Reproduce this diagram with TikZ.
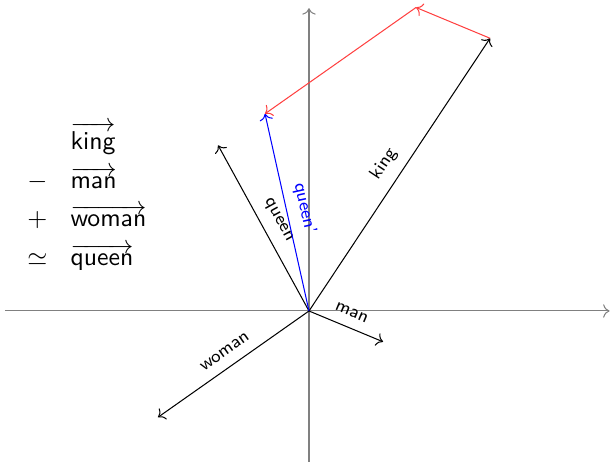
\documentclass[tikz,border=0pt]{standalone}
\usepackage{amsmath,amssymb}
\usepackage{xcolor}
\usepackage{tikz}
\usetikzlibrary{arrows.meta,positioning,calc}
\tikzset{
wvaxis/.style={->,gray,thin},
wvvec/.style={->,black,thin},
wvshift/.style={->,red!75,thin},
wvresult/.style={->,blue,thin},
wvlabel/.style={font=\sffamily\scriptsize,inner sep=4pt,sloped,above}
}
\begin{document}
\begin{tikzpicture}[
x=1cm,
y=1cm
]
\useasboundingbox (-4.215,-2.060) rectangle (4.106,4.242);
\coordinate (origin) at (0,0);
\coordinate (xleft) at (-4.15,0);
\coordinate (xright) at (4.10,0);
\coordinate (ybottom) at (0,-2.06);
\coordinate (ytop) at (0,4.13);
\coordinate (king) at (2.47,3.72);
\coordinate (man) at (1.01,-0.42);
\coordinate (woman) at (-2.06,-1.45);
\coordinate (queen) at (-1.24,2.26);
\coordinate (kingman) at ($(king)-(man)$);
\coordinate (queenp) at ($(kingman)+(woman)$);
\draw[wvaxis] (xleft)--(xright);
\draw[wvaxis] (ybottom)--(ytop);
\draw[wvvec] (origin)--node[wvlabel]{king}(king);
\draw[wvvec] (origin)--node[wvlabel]{man}(man);
\draw[wvvec] (origin)--node[wvlabel]{woman}(woman);
\draw[wvvec] (origin)--node[wvlabel]{queen}(queen);
\draw[wvresult] (origin)--node[wvlabel,inner sep=3.7pt,blue]{queen'}(queenp);
\draw[wvshift] (king)--(kingman);
\draw[wvshift] (kingman)--(queenp);
\node[font=\sffamily,inner sep=0pt] (legend) at (-3.03,1.52)
  {$\renewcommand{\arraystretch}{1.25}\begin{array}{c@{\hspace{0.9em}}l}
  & \overrightarrow{\text{king}}\\
  - & \overrightarrow{\text{man}}\\
  + & \overrightarrow{\text{woman}}\\
  \simeq & \overrightarrow{\text{queen}}
  \end{array}$};
\end{tikzpicture}
\end{document}
